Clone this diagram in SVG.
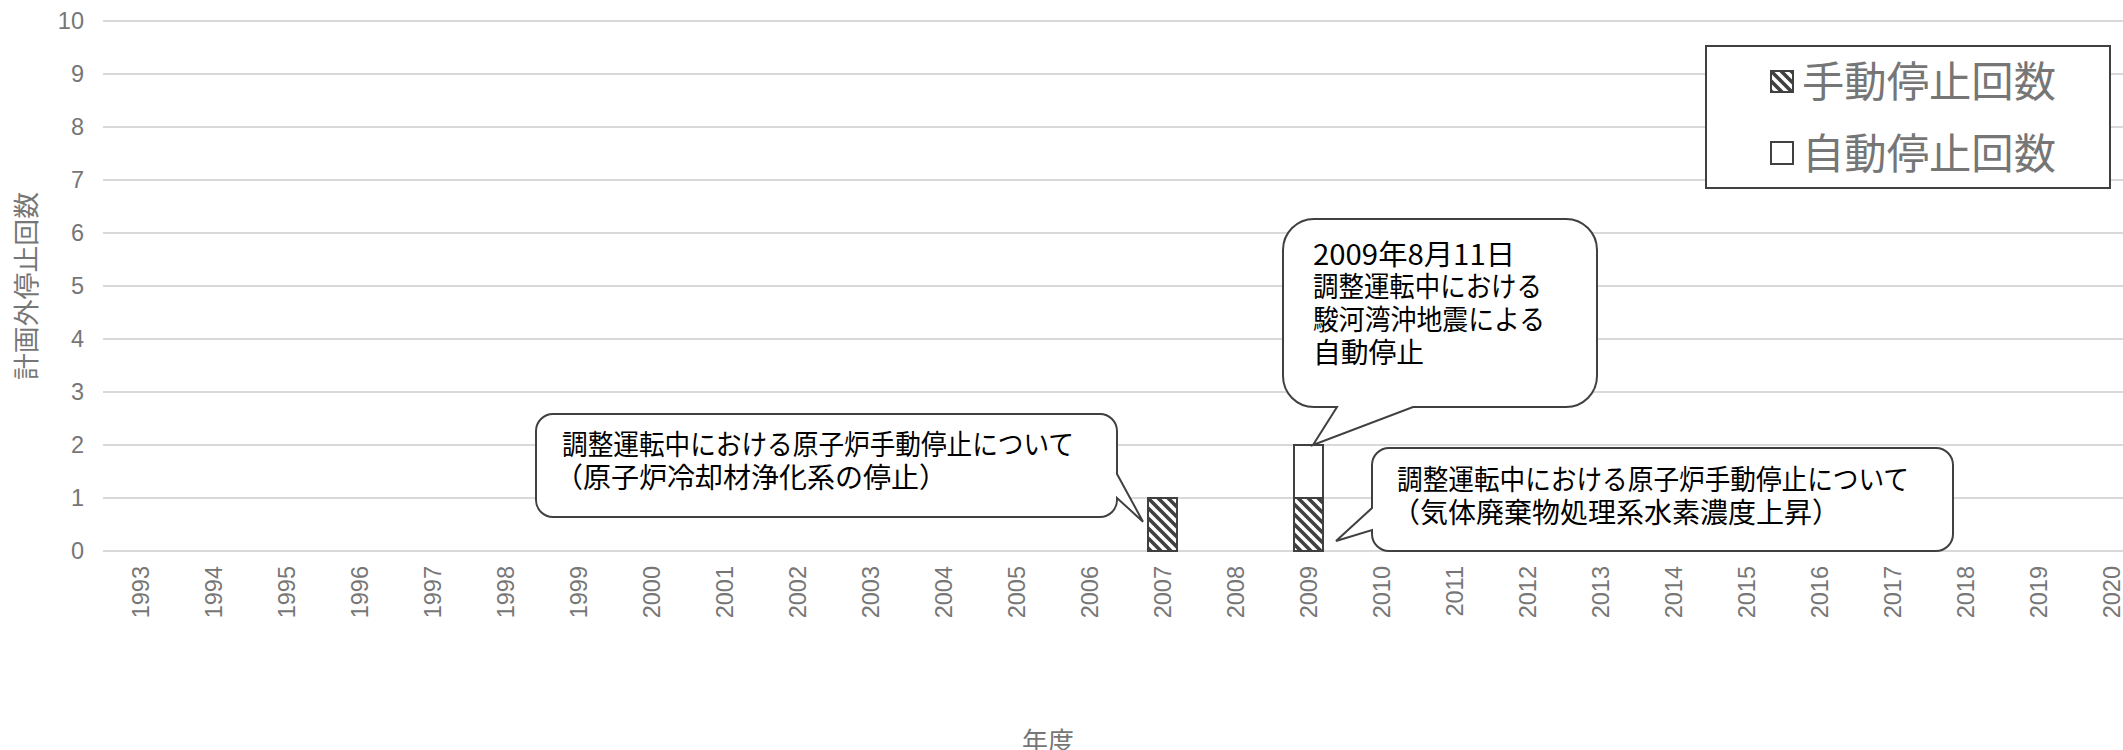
<svg xmlns="http://www.w3.org/2000/svg" width="2123" height="750" viewBox="0 0 2123 750">
<style>
.grid{stroke:#d9d9d9;stroke-width:2;fill:none}
.ytick{font-family:"Liberation Sans",Arial,sans-serif;font-size:23.5px;fill:#767676;text-anchor:end}
.xtick{font-family:"Liberation Sans",Arial,sans-serif;font-size:23.5px;fill:#767676;text-anchor:end}
.title{font-family:"Noto Sans CJK JP",sans-serif;font-size:26px;fill:#767676;text-anchor:middle}
.bar{stroke:#404040;stroke-width:2}
.callout{fill:#ffffff;stroke:#404040;stroke-width:2;stroke-linejoin:miter}
.ct{font-family:"Noto Sans CJK JP",sans-serif;font-size:28px;fill:#000000}
.leg{font-family:"Noto Sans CJK JP",sans-serif;font-size:42px;fill:#767676}
</style>
<defs>
<pattern id="hatch" patternUnits="userSpaceOnUse" width="10" height="10">
<rect width="10" height="10" fill="#ffffff"/>
<path d="M-2.5,-2.5 L12.5,12.5 M-2.5,7.5 L2.5,12.5 M7.5,-2.5 L12.5,2.5" stroke="#404040" stroke-width="3.6"/>
</pattern>
</defs>
<rect width="2123" height="750" fill="#ffffff"/>
<g id="gridlines">
<path class="grid" d="M103,21H2123M103,74H2123M103,127H2123M103,180H2123M103,233H2123M103,286H2123M103,339H2123M103,392H2123M103,445H2123M103,498H2123M103,551H2123"/>
</g>
<g id="y-axis">
<text class="ytick" x="84" y="29.3">10</text>
<text class="ytick" x="84" y="82.3">9</text>
<text class="ytick" x="84" y="135.3">8</text>
<text class="ytick" x="84" y="188.3">7</text>
<text class="ytick" x="84" y="241.3">6</text>
<text class="ytick" x="84" y="294.3">5</text>
<text class="ytick" x="84" y="347.3">4</text>
<text class="ytick" x="84" y="400.3">3</text>
<text class="ytick" x="84" y="453.3">2</text>
<text class="ytick" x="84" y="506.3">1</text>
<text class="ytick" x="84" y="559.3">0</text>
<text class="title" transform="translate(36,286) rotate(-90)" textLength="188" lengthAdjust="spacingAndGlyphs">計画外停止回数</text>
</g>
<g id="x-axis">
<text class="xtick" transform="translate(149,566) rotate(-90)">1993</text>
<text class="xtick" transform="translate(222,566) rotate(-90)">1994</text>
<text class="xtick" transform="translate(295,566) rotate(-90)">1995</text>
<text class="xtick" transform="translate(368,566) rotate(-90)">1996</text>
<text class="xtick" transform="translate(441,566) rotate(-90)">1997</text>
<text class="xtick" transform="translate(514,566) rotate(-90)">1998</text>
<text class="xtick" transform="translate(587,566) rotate(-90)">1999</text>
<text class="xtick" transform="translate(660,566) rotate(-90)">2000</text>
<text class="xtick" transform="translate(733,566) rotate(-90)">2001</text>
<text class="xtick" transform="translate(806,566) rotate(-90)">2002</text>
<text class="xtick" transform="translate(879,566) rotate(-90)">2003</text>
<text class="xtick" transform="translate(952,566) rotate(-90)">2004</text>
<text class="xtick" transform="translate(1025,566) rotate(-90)">2005</text>
<text class="xtick" transform="translate(1098,566) rotate(-90)">2006</text>
<text class="xtick" transform="translate(1171,566) rotate(-90)">2007</text>
<text class="xtick" transform="translate(1244,566) rotate(-90)">2008</text>
<text class="xtick" transform="translate(1317,566) rotate(-90)">2009</text>
<text class="xtick" transform="translate(1390,566) rotate(-90)">2010</text>
<text class="xtick" transform="translate(1463,566) rotate(-90)">2011</text>
<text class="xtick" transform="translate(1536,566) rotate(-90)">2012</text>
<text class="xtick" transform="translate(1609,566) rotate(-90)">2013</text>
<text class="xtick" transform="translate(1682,566) rotate(-90)">2014</text>
<text class="xtick" transform="translate(1755,566) rotate(-90)">2015</text>
<text class="xtick" transform="translate(1828,566) rotate(-90)">2016</text>
<text class="xtick" transform="translate(1901,566) rotate(-90)">2017</text>
<text class="xtick" transform="translate(1974,566) rotate(-90)">2018</text>
<text class="xtick" transform="translate(2047,566) rotate(-90)">2019</text>
<text class="xtick" transform="translate(2120,566) rotate(-90)">2020</text>
<text class="title" x="1048" y="751">年度</text>
</g>
<g id="bars">
<rect id="bar-2007-manual" class="bar" x="1148" y="498" width="29" height="53" fill="url(#hatch)"/>
<rect id="bar-2009-manual" class="bar" x="1294" y="498" width="29" height="53" fill="url(#hatch)"/>
<rect id="bar-2009-auto" class="bar" x="1294" y="445" width="29" height="53" fill="#ffffff"/>
</g>
<g id="legend">
<rect x="1706" y="46" width="404" height="142" fill="#ffffff" stroke="#404040" stroke-width="2"/>
<rect x="1771" y="71" width="22" height="21" fill="url(#hatch)" stroke="#404040" stroke-width="2"/>
<text class="leg" x="1802" y="97" textLength="254" lengthAdjust="spacingAndGlyphs">手動停止回数</text>
<rect x="1771" y="142" width="22" height="22" fill="#ffffff" stroke="#404040" stroke-width="2"/>
<text class="leg" x="1802" y="169" textLength="254" lengthAdjust="spacingAndGlyphs">自動停止回数</text>
</g>
<g id="callout-2007">
<path class="callout" d="M553,414 H1100 A17,17 0 0 1 1117,431 V474 L1143,521.7 L1117,498 V500 A17,17 0 0 1 1100,517 H553 A17,17 0 0 1 536,500 V431 A17,17 0 0 1 553,414 Z"/>
<text class="ct" x="562" y="455" textLength="512" lengthAdjust="spacingAndGlyphs">調整運転中における原子炉手動停止について</text>
<text class="ct" x="555" y="488">（原子炉冷却材浄化系の停止）</text>
</g>
<g id="callout-2009-auto">
<path class="callout" d="M1314,219 H1566 A31,31 0 0 1 1597,250 V376 A31,31 0 0 1 1566,407 H1413 L1313,445 L1337,407 H1314 A31,31 0 0 1 1283,376 V250 A31,31 0 0 1 1314,219 Z"/>
<text class="ct" x="1313" y="265" textLength="202" lengthAdjust="spacingAndGlyphs">2009年8月11日</text>
<text class="ct" x="1313" y="297" textLength="229" lengthAdjust="spacingAndGlyphs">調整運転中における</text>
<text class="ct" x="1313" y="330" textLength="232" lengthAdjust="spacingAndGlyphs">駿河湾沖地震による</text>
<text class="ct" x="1313" y="363" textLength="111" lengthAdjust="spacingAndGlyphs">自動停止</text>
</g>
<g id="callout-2009-manual">
<path class="callout" d="M1389,448 H1936 A17,17 0 0 1 1953,465 V534 A17,17 0 0 1 1936,551 H1389 A17,17 0 0 1 1372,534 V530 L1336,541 L1372,508 V465 A17,17 0 0 1 1389,448 Z"/>
<text class="ct" x="1397" y="490" textLength="512" lengthAdjust="spacingAndGlyphs">調整運転中における原子炉手動停止について</text>
<text class="ct" x="1392" y="523">（気体廃棄物処理系水素濃度上昇）</text>
</g>
</svg>
